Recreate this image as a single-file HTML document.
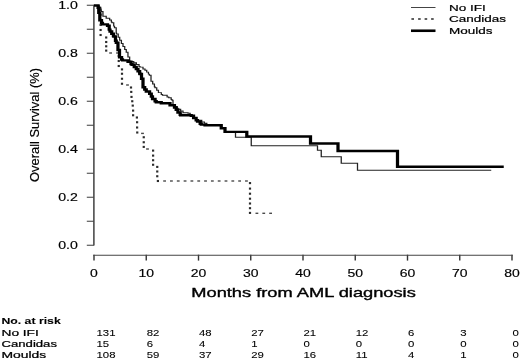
<!DOCTYPE html>
<html><head><meta charset="utf-8"><title>Overall Survival</title>
<style>
html,body{margin:0;padding:0;background:#fff;}
body{width:520px;height:360px;overflow:hidden;}
svg{display:block;filter:blur(0.35px);}
text{font-family:"Liberation Sans",sans-serif;fill:#000;stroke:#000;stroke-width:0.08px;}
.tk{font-size:10.4px;stroke-width:0.15px;}
.tkx{font-size:10.0px;stroke-width:0.15px;}
.tb{font-size:8.7px;}
</style></head><body>
<svg width="520" height="360" viewBox="0 0 520 360">
<rect width="520" height="360" fill="#fff"/>

<g stroke="#333" stroke-width="1.4" fill="none">
<path d="M93.9,4.7 V245.6"/>
<path d="M94.00,254.7 V260.6"/>
<path d="M146.25,254.7 V260.6"/>
<path d="M198.50,254.7 V260.6"/>
<path d="M250.75,254.7 V260.6"/>
<path d="M303.00,254.7 V260.6"/>
<path d="M355.25,254.7 V260.6"/>
<path d="M407.50,254.7 V260.6"/>
<path d="M459.75,254.7 V260.6"/>
<path d="M512.00,254.7 V260.6"/>
</g>
<g stroke="#444" stroke-width="1.05" fill="none">
<path d="M86.8,5.25 H93.9"/>
<path d="M86.8,29.25 H93.9"/>
<path d="M86.8,53.25 H93.9"/>
<path d="M86.8,77.25 H93.9"/>
<path d="M86.8,101.25 H93.9"/>
<path d="M86.8,125.25 H93.9"/>
<path d="M86.8,149.25 H93.9"/>
<path d="M86.8,173.25 H93.9"/>
<path d="M86.8,197.25 H93.9"/>
<path d="M86.8,221.25 H93.9"/>
<path d="M86.8,245.25 H93.9"/>
<path d="M93.30,255.2 H512.70"/>
</g>
<text class="tk" transform="translate(77.90,8.65) scale(1.36,1)" text-anchor="end" >1.0</text>
<text class="tk" transform="translate(77.90,56.65) scale(1.36,1)" text-anchor="end" >0.8</text>
<text class="tk" transform="translate(77.90,104.65) scale(1.36,1)" text-anchor="end" >0.6</text>
<text class="tk" transform="translate(77.90,152.65) scale(1.36,1)" text-anchor="end" >0.4</text>
<text class="tk" transform="translate(77.90,200.65) scale(1.36,1)" text-anchor="end" >0.2</text>
<text class="tk" transform="translate(77.90,248.65) scale(1.36,1)" text-anchor="end" >0.0</text>
<text class="tkx" transform="translate(94.00,277.20) scale(1.4,1)" text-anchor="middle" >0</text>
<text class="tkx" transform="translate(146.25,277.20) scale(1.4,1)" text-anchor="middle" >10</text>
<text class="tkx" transform="translate(198.50,277.20) scale(1.4,1)" text-anchor="middle" >20</text>
<text class="tkx" transform="translate(250.75,277.20) scale(1.4,1)" text-anchor="middle" >30</text>
<text class="tkx" transform="translate(303.00,277.20) scale(1.4,1)" text-anchor="middle" >40</text>
<text class="tkx" transform="translate(355.25,277.20) scale(1.4,1)" text-anchor="middle" >50</text>
<text class="tkx" transform="translate(407.50,277.20) scale(1.4,1)" text-anchor="middle" >60</text>
<text class="tkx" transform="translate(459.75,277.20) scale(1.4,1)" text-anchor="middle" >70</text>
<text class="tkx" transform="translate(512.00,277.20) scale(1.4,1)" text-anchor="middle" >80</text>
<text class="xt" transform="translate(191.30,297.30) scale(1.0,1)" text-anchor="start" style="font-size:13.4px;stroke-width:0.36px" textLength="224.5" lengthAdjust="spacingAndGlyphs">Months from AML diagnosis</text>
<text transform="translate(39.2,125) rotate(-90)" text-anchor="middle" style="font-size:12.9px;stroke-width:0.18px">Overall Survival (%)</text>
<g stroke="#222" fill="none"><path d="M411,7.5 H435.5" stroke-width="1" stroke="#444"/><path d="M411,30.75 H435.5" stroke-width="2.6" stroke="#000"/></g>
<text class="lg" transform="translate(449.00,10.60) scale(1.38,1)" text-anchor="start" style="font-size:9.8px;stroke-width:0.2px">No IFI</text>
<text class="lg" transform="translate(449.00,22.20) scale(1.38,1)" text-anchor="start" style="font-size:9.8px;stroke-width:0.2px">Candidas</text>
<text class="lg" transform="translate(449.00,33.80) scale(1.38,1)" text-anchor="start" style="font-size:9.8px;stroke-width:0.2px">Moulds</text>
<g fill="#2b2b2b">
<rect x="99.50" y="8.55" width="2.2" height="2.1"/>
<rect x="99.50" y="13.65" width="2.2" height="2.1"/>
<rect x="99.50" y="18.75" width="2.2" height="2.1"/>
<rect x="99.50" y="23.85" width="2.2" height="2.1"/>
<rect x="99.50" y="28.95" width="2.2" height="2.1"/>
<rect x="99.50" y="33.95" width="2.2" height="2.1"/>
<rect x="105.10" y="36.45" width="2.2" height="2.1"/>
<rect x="105.10" y="40.95" width="2.2" height="2.1"/>
<rect x="105.10" y="45.25" width="2.2" height="2.1"/>
<rect x="105.10" y="49.55" width="2.2" height="2.1"/>
<rect x="117.65" y="54.95" width="2.2" height="2.1"/>
<rect x="117.65" y="59.95" width="2.2" height="2.1"/>
<rect x="117.65" y="64.95" width="2.2" height="2.1"/>
<rect x="120.90" y="68.35" width="2.2" height="2.1"/>
<rect x="120.90" y="72.70" width="2.2" height="2.1"/>
<rect x="120.90" y="77.70" width="2.2" height="2.1"/>
<rect x="120.90" y="82.70" width="2.2" height="2.1"/>
<rect x="129.90" y="86.45" width="2.2" height="2.1"/>
<rect x="130.15" y="90.85" width="2.2" height="2.1"/>
<rect x="130.40" y="95.85" width="2.2" height="2.1"/>
<rect x="131.15" y="100.20" width="2.2" height="2.1"/>
<rect x="131.65" y="104.55" width="2.2" height="2.1"/>
<rect x="132.00" y="109.55" width="2.2" height="2.1"/>
<rect x="132.00" y="114.20" width="2.2" height="2.1"/>
<rect x="135.80" y="116.45" width="2.2" height="2.1"/>
<rect x="136.00" y="121.20" width="2.2" height="2.1"/>
<rect x="136.00" y="126.45" width="2.2" height="2.1"/>
<rect x="136.15" y="131.45" width="2.2" height="2.1"/>
<rect x="142.65" y="136.20" width="2.2" height="2.1"/>
<rect x="142.65" y="141.20" width="2.2" height="2.1"/>
<rect x="142.65" y="145.85" width="2.2" height="2.1"/>
<rect x="152.00" y="149.55" width="2.2" height="2.1"/>
<rect x="152.00" y="154.55" width="2.2" height="2.1"/>
<rect x="152.00" y="159.20" width="2.2" height="2.1"/>
<rect x="152.00" y="163.70" width="2.2" height="2.1"/>
<rect x="156.15" y="165.85" width="2.2" height="2.1"/>
<rect x="156.15" y="170.45" width="2.2" height="2.1"/>
<rect x="156.15" y="175.20" width="2.2" height="2.1"/>
<rect x="156.80" y="179.95" width="2.2" height="2.1"/>
<rect x="248.90" y="182.05" width="2.2" height="2.1"/>
<rect x="248.90" y="187.55" width="2.2" height="2.1"/>
<rect x="248.90" y="192.65" width="2.2" height="2.1"/>
<rect x="248.90" y="197.65" width="2.2" height="2.1"/>
<rect x="248.90" y="202.45" width="2.2" height="2.1"/>
<rect x="248.90" y="207.15" width="2.2" height="2.1"/>
<rect x="248.90" y="211.85" width="2.2" height="2.1"/>
</g><g fill="#4a4a4a">
<rect x="109.20" y="52.30" width="2.8" height="1.4"/>
<rect x="116.10" y="52.30" width="2.8" height="1.4"/>
<rect x="126.10" y="84.30" width="2.8" height="1.4"/>
<rect x="141.10" y="132.70" width="2.8" height="1.4"/>
<rect x="146.10" y="148.30" width="2.8" height="1.4"/>
<rect x="163.20" y="180.30" width="2.8" height="1.4"/>
<rect x="170.02" y="180.30" width="2.8" height="1.4"/>
<rect x="176.84" y="180.30" width="2.8" height="1.4"/>
<rect x="183.66" y="180.30" width="2.8" height="1.4"/>
<rect x="190.48" y="180.30" width="2.8" height="1.4"/>
<rect x="197.30" y="180.30" width="2.8" height="1.4"/>
<rect x="204.12" y="180.30" width="2.8" height="1.4"/>
<rect x="210.94" y="180.30" width="2.8" height="1.4"/>
<rect x="217.76" y="180.30" width="2.8" height="1.4"/>
<rect x="224.58" y="180.30" width="2.8" height="1.4"/>
<rect x="231.40" y="180.30" width="2.8" height="1.4"/>
<rect x="238.22" y="180.30" width="2.8" height="1.4"/>
<rect x="245.04" y="180.30" width="2.8" height="1.4"/>
<rect x="255.50" y="212.60" width="2.8" height="1.4"/>
<rect x="262.35" y="212.60" width="2.8" height="1.4"/>
<rect x="269.20" y="212.60" width="2.8" height="1.4"/>
<rect x="411.40" y="18.25" width="2.6" height="1.5" fill="#2a2a2a"/>
<rect x="418.10" y="18.25" width="2.6" height="1.5" fill="#2a2a2a"/>
<rect x="424.60" y="18.25" width="2.6" height="1.5" fill="#2a2a2a"/>
<rect x="431.10" y="18.25" width="2.6" height="1.5" fill="#2a2a2a"/>
</g>
<g transform="translate(0,0.2) scale(1.34,1)" fill="none" stroke-linejoin="miter">
<path d="M70.15,5.25 L73.88,5.25 L73.88,7.10 L75.17,7.10 L75.17,10.28 L75.56,10.28 L75.56,11.25 L76.83,11.25 L76.83,16.11 L79.25,16.11 L79.25,17.96 L81.83,17.96 L81.83,19.81 L83.12,19.81 L83.12,21.72 L83.58,21.72 L83.58,22.50 L84.86,22.50 L84.86,25.92 L85.45,25.92 L85.45,27.50 L86.72,27.50 L86.72,32.84 L86.94,32.84 L86.94,33.75 L88.22,33.75 L88.22,37.10 L89.33,37.10 L89.33,40.00 L90.60,40.00 L90.60,43.24 L91.79,43.24 L91.79,46.25 L93.08,46.25 L93.08,49.30 L94.22,49.30 L94.22,52.00 L95.49,52.00 L95.49,56.86 L96.76,56.86 L96.76,60.52 L97.01,60.52 L97.01,61.25 L99.81,61.25 L99.81,62.50 L101.78,62.50 L101.78,64.35 L103.74,64.35 L103.74,66.21 L104.48,66.21 L104.48,66.90 L106.71,66.90 L106.71,68.75 L108.21,68.75 L108.21,70.00 L109.49,70.00 L109.49,71.95 L110.78,71.95 L110.78,73.91 L111.49,73.91 L111.49,75.00 L112.69,75.00 L112.69,81.00 L113.96,81.00 L113.96,83.78 L115.24,83.78 L115.24,86.56 L115.67,86.56 L115.67,87.50 L116.96,87.50 L116.96,89.96 L118.24,89.96 L118.24,92.42 L120.38,92.42 L120.38,94.26 L121.27,94.26 L121.27,95.00 L124.71,95.00 L124.71,96.85 L125.93,96.85 L125.93,97.50 L127.74,97.50 L127.74,99.36 L128.36,99.36 L128.36,100.00 L129.10,100.00 L129.10,104.40 L130.60,104.40 L130.60,106.24 L132.09,106.24 L132.09,108.08 L132.84,108.08 L132.84,109.00 L134.79,109.00 L134.79,110.84 L136.57,110.84 L136.57,112.50 L140.30,112.50 L140.30,113.00 L141.89,113.00 L141.89,114.84 L142.54,114.84 L142.54,115.60 L144.56,115.60 L144.56,117.43 L146.58,117.43 L146.58,119.27 L147.39,119.27 L147.39,120.00 L150.55,120.00 L150.55,121.84 L152.54,121.84 L152.54,123.00 L154.33,123.00 L154.33,124.85 L154.48,124.85 L154.48,125.00 L165.11,125.00 L165.11,128.00 L167.91,128.00 L167.91,131.70 L175.75,131.70 L175.75,137.00 L187.50,137.00 L187.50,145.50 L236.94,145.50 L236.94,150.00 L239.74,150.00 L239.74,156.50 L254.66,156.50 L254.66,163.00 L266.79,163.00 L266.79,170.00 L366.60,170.00" stroke="#222" stroke-width="0.95"/>
<path d="M70.15,5.25 L73.20,5.25 L73.20,7.48 L73.69,7.48 L73.69,12.50 L74.48,12.50 L74.48,20.00 L75.76,20.00 L75.76,22.67 L76.49,22.67 L76.49,24.20 L80.22,24.20 L80.22,25.60 L81.50,25.60 L81.50,29.46 L82.09,29.46 L82.09,31.25 L83.37,31.25 L83.37,33.53 L84.64,33.53 L84.64,35.81 L84.89,35.81 L84.89,36.25 L86.17,36.25 L86.17,40.54 L86.75,40.54 L86.75,42.50 L88.03,42.50 L88.03,49.81 L89.18,49.81 L89.18,57.00 L90.75,57.00 L90.75,59.24 L91.42,59.24 L91.42,60.20 L95.52,60.20 L95.52,61.50 L97.76,61.50 L97.76,63.75 L98.51,63.75 L98.51,64.50 L100.17,64.50 L100.17,66.73 L101.68,66.73 L101.68,68.75 L102.96,68.75 L102.96,71.03 L104.23,71.03 L104.23,73.31 L104.48,73.31 L104.48,73.75 L105.60,73.75 L105.60,78.50 L106.72,78.50 L106.72,87.00 L107.99,87.00 L107.99,89.22 L109.14,89.22 L109.14,91.25 L111.63,91.25 L111.63,93.47 L112.90,93.47 L112.90,96.32 L113.81,96.32 L113.81,98.75 L115.73,98.75 L115.73,100.98 L116.60,100.98 L116.60,102.00 L120.34,102.00 L120.34,103.00 L126.87,103.00 L126.87,105.00 L130.19,105.00 L130.19,107.23 L131.48,107.23 L131.48,109.48 L132.76,109.48 L132.76,112.33 L134.45,112.33 L134.45,114.58 L134.78,114.58 L134.78,115.00 L142.72,115.00 L142.72,115.60 L144.45,115.60 L144.45,117.83 L146.37,117.83 L146.37,120.07 L147.39,120.07 L147.39,121.25 L149.38,121.25 L149.38,123.49 L150.19,123.49 L150.19,124.40 L152.99,124.40 L152.99,125.00 L152.99,125.00 L165.11,125.00 L165.11,128.00 L167.91,128.00 L167.91,131.70 L184.18,131.70 L184.18,136.25 L231.72,136.25 L231.72,143.25 L252.24,143.25 L252.24,150.75 L296.64,150.75 L296.64,166.50 L375.93,166.50" stroke="#000" stroke-width="2.42"/>
</g>
<text class="tb" transform="translate(1.50,323.80) scale(1.0,1)" text-anchor="start" style="font-weight:bold" textLength="59.2" lengthAdjust="spacingAndGlyphs">No. at risk</text>
<text class="tb" transform="translate(1.50,335.50) scale(1.0,1)" text-anchor="start" style="stroke-width:0.22px" textLength="37.3" lengthAdjust="spacingAndGlyphs">No IFI</text>
<text class="tb" transform="translate(96.50,335.50) scale(1.31,1)" text-anchor="start" >131</text>
<text class="tb" transform="translate(146.75,335.50) scale(1.31,1)" text-anchor="start" >82</text>
<text class="tb" transform="translate(199.00,335.50) scale(1.31,1)" text-anchor="start" >48</text>
<text class="tb" transform="translate(251.25,335.50) scale(1.31,1)" text-anchor="start" >27</text>
<text class="tb" transform="translate(303.50,335.50) scale(1.31,1)" text-anchor="start" >21</text>
<text class="tb" transform="translate(355.75,335.50) scale(1.31,1)" text-anchor="start" >12</text>
<text class="tb" transform="translate(408.00,335.50) scale(1.31,1)" text-anchor="start" >6</text>
<text class="tb" transform="translate(460.25,335.50) scale(1.31,1)" text-anchor="start" >3</text>
<text class="tb" transform="translate(512.50,335.50) scale(1.31,1)" text-anchor="start" >0</text>
<text class="tb" transform="translate(1.50,346.60) scale(1.0,1)" text-anchor="start" style="stroke-width:0.22px" textLength="55.5" lengthAdjust="spacingAndGlyphs">Candidas</text>
<text class="tb" transform="translate(96.50,346.60) scale(1.31,1)" text-anchor="start" >15</text>
<text class="tb" transform="translate(146.75,346.60) scale(1.31,1)" text-anchor="start" >6</text>
<text class="tb" transform="translate(199.00,346.60) scale(1.31,1)" text-anchor="start" >4</text>
<text class="tb" transform="translate(251.25,346.60) scale(1.31,1)" text-anchor="start" >1</text>
<text class="tb" transform="translate(303.50,346.60) scale(1.31,1)" text-anchor="start" >0</text>
<text class="tb" transform="translate(355.75,346.60) scale(1.31,1)" text-anchor="start" >0</text>
<text class="tb" transform="translate(408.00,346.60) scale(1.31,1)" text-anchor="start" >0</text>
<text class="tb" transform="translate(460.25,346.60) scale(1.31,1)" text-anchor="start" >0</text>
<text class="tb" transform="translate(512.50,346.60) scale(1.31,1)" text-anchor="start" >0</text>
<text class="tb" transform="translate(1.50,358.00) scale(1.0,1)" text-anchor="start" style="stroke-width:0.22px" textLength="44.8" lengthAdjust="spacingAndGlyphs">Moulds</text>
<text class="tb" transform="translate(96.50,358.00) scale(1.31,1)" text-anchor="start" >108</text>
<text class="tb" transform="translate(146.75,358.00) scale(1.31,1)" text-anchor="start" >59</text>
<text class="tb" transform="translate(199.00,358.00) scale(1.31,1)" text-anchor="start" >37</text>
<text class="tb" transform="translate(251.25,358.00) scale(1.31,1)" text-anchor="start" >29</text>
<text class="tb" transform="translate(303.50,358.00) scale(1.31,1)" text-anchor="start" >16</text>
<text class="tb" transform="translate(355.75,358.00) scale(1.31,1)" text-anchor="start" >11</text>
<text class="tb" transform="translate(408.00,358.00) scale(1.31,1)" text-anchor="start" >4</text>
<text class="tb" transform="translate(460.25,358.00) scale(1.31,1)" text-anchor="start" >1</text>
<text class="tb" transform="translate(512.50,358.00) scale(1.31,1)" text-anchor="start" >0</text>
</svg></body></html>
